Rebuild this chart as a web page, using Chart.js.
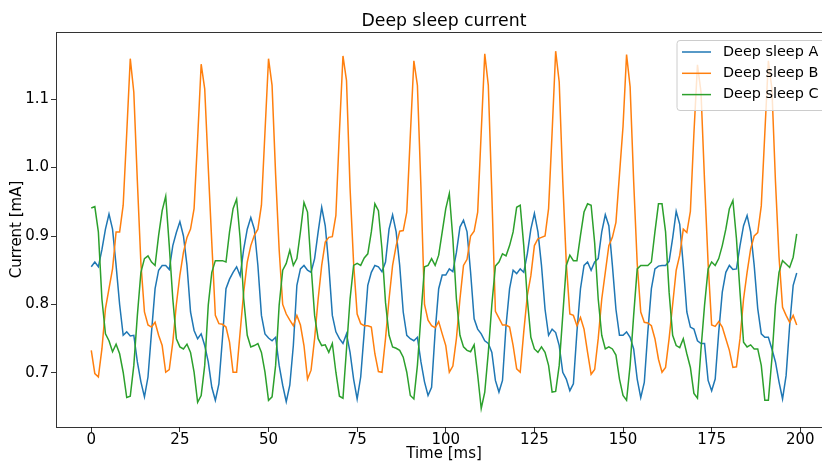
<!DOCTYPE html>
<html>
<head>
<meta charset="utf-8">
<title>Deep sleep current</title>
<script src="https://cdn.jsdelivr.net/npm/chart.js@4.4.1/dist/chart.umd.min.js"></script>
<style>
  html, body { margin: 0; padding: 0; background: #ffffff; overflow: hidden; }
  #wrap { width: 822px; height: 463px; overflow: hidden; }
  canvas { display: block; }
</style>
</head>
<body>
<div id="wrap"><canvas id="grafico" width="888" height="463"></canvas></div>
<script>
// ---------------------------------------------------------------
// datos (una muestra por ms)
// ---------------------------------------------------------------
const chartTitle = 'Deep sleep current';

const timeMs = [
  0, 1, 2, 3, 4, 5, 6, 7, 8, 9, 10, 11, 12, 13, 14, 15, 16, 17, 18, 19,
  20, 21, 22, 23, 24, 25, 26, 27, 28, 29, 30, 31, 32, 33, 34, 35, 36, 37, 38, 39,
  40, 41, 42, 43, 44, 45, 46, 47, 48, 49, 50, 51, 52, 53, 54, 55, 56, 57, 58, 59,
  60, 61, 62, 63, 64, 65, 66, 67, 68, 69, 70, 71, 72, 73, 74, 75, 76, 77, 78, 79,
  80, 81, 82, 83, 84, 85, 86, 87, 88, 89, 90, 91, 92, 93, 94, 95, 96, 97, 98, 99,
  100, 101, 102, 103, 104, 105, 106, 107, 108, 109, 110, 111, 112, 113, 114, 115, 116, 117, 118, 119,
  120, 121, 122, 123, 124, 125, 126, 127, 128, 129, 130, 131, 132, 133, 134, 135, 136, 137, 138, 139,
  140, 141, 142, 143, 144, 145, 146, 147, 148, 149, 150, 151, 152, 153, 154, 155, 156, 157, 158, 159,
  160, 161, 162, 163, 164, 165, 166, 167, 168, 169, 170, 171, 172, 173, 174, 175, 176, 177, 178, 179,
  180, 181, 182, 183, 184, 185, 186, 187, 188, 189, 190, 191, 192, 193, 194, 195, 196, 197, 198, 199
];

const sleepA = [
  0.855, 0.862, 0.855, 0.880, 0.910, 0.932, 0.910, 0.857, 0.800, 0.755, 0.760, 0.754, 0.755, 0.716, 0.687, 0.665, 0.694, 0.760, 0.823, 0.850,
  0.857, 0.857, 0.851, 0.886, 0.905, 0.921, 0.900, 0.857, 0.789, 0.762, 0.750, 0.757, 0.740, 0.716, 0.679, 0.660, 0.684, 0.750, 0.823, 0.837,
  0.847, 0.855, 0.842, 0.881, 0.910, 0.927, 0.910, 0.857, 0.784, 0.757, 0.751, 0.747, 0.752, 0.711, 0.682, 0.658, 0.682, 0.740, 0.828, 0.852,
  0.857, 0.850, 0.847, 0.867, 0.906, 0.942, 0.915, 0.857, 0.784, 0.760, 0.750, 0.743, 0.757, 0.730, 0.691, 0.662, 0.694, 0.760, 0.828, 0.847,
  0.857, 0.855, 0.848, 0.862, 0.910, 0.931, 0.906, 0.857, 0.789, 0.755, 0.750, 0.747, 0.752, 0.716, 0.687, 0.667, 0.679, 0.760, 0.823, 0.843,
  0.843, 0.852, 0.848, 0.876, 0.913, 0.923, 0.906, 0.847, 0.779, 0.764, 0.757, 0.747, 0.743, 0.730, 0.689, 0.672, 0.689, 0.769, 0.823, 0.850,
  0.845, 0.852, 0.847, 0.874, 0.910, 0.933, 0.906, 0.857, 0.793, 0.755, 0.764, 0.759, 0.740, 0.701, 0.691, 0.674, 0.684, 0.760, 0.823, 0.857,
  0.862, 0.850, 0.862, 0.867, 0.906, 0.931, 0.915, 0.857, 0.793, 0.755, 0.755, 0.760, 0.752, 0.735, 0.691, 0.664, 0.686, 0.760, 0.823, 0.852,
  0.856, 0.857, 0.857, 0.863, 0.897, 0.936, 0.917, 0.857, 0.789, 0.767, 0.764, 0.747, 0.743, 0.743, 0.689, 0.674, 0.691, 0.760, 0.818, 0.847,
  0.857, 0.851, 0.852, 0.886, 0.915, 0.930, 0.906, 0.857, 0.794, 0.757, 0.752, 0.752, 0.735, 0.716, 0.687, 0.662, 0.696, 0.769, 0.828, 0.846
];

const sleepB = [
  0.733, 0.699, 0.694, 0.735, 0.794, 0.823, 0.852, 0.906, 0.906, 0.945, 1.050, 1.159, 1.110, 0.980, 0.860, 0.789, 0.770, 0.767, 0.774, 0.755,
  0.740, 0.701, 0.705, 0.745, 0.800, 0.843, 0.876, 0.898, 0.910, 0.940, 1.042, 1.151, 1.115, 1.000, 0.890, 0.784, 0.772, 0.771, 0.767, 0.745,
  0.701, 0.701, 0.760, 0.818, 0.862, 0.886, 0.901, 0.910, 0.945, 1.052, 1.159, 1.120, 0.990, 0.880, 0.800, 0.786, 0.777, 0.769, 0.784, 0.770,
  0.740, 0.691, 0.704, 0.750, 0.808, 0.857, 0.891, 0.898, 0.899, 0.930, 1.052, 1.163, 1.127, 0.970, 0.860, 0.786, 0.772, 0.769, 0.769, 0.767,
  0.728, 0.702, 0.701, 0.750, 0.808, 0.857, 0.886, 0.907, 0.908, 0.935, 1.047, 1.156, 1.120, 0.970, 0.800, 0.777, 0.769, 0.766, 0.775, 0.757,
  0.740, 0.701, 0.710, 0.750, 0.808, 0.857, 0.866, 0.900, 0.907, 0.935, 1.052, 1.166, 1.120, 0.960, 0.790, 0.780, 0.770, 0.770, 0.767, 0.740,
  0.706, 0.701, 0.760, 0.813, 0.842, 0.886, 0.896, 0.898, 0.900, 0.940, 1.052, 1.170, 1.125, 0.980, 0.860, 0.786, 0.784, 0.769, 0.781, 0.764,
  0.730, 0.698, 0.705, 0.750, 0.808, 0.847, 0.886, 0.898, 0.920, 0.990, 1.060, 1.165, 1.118, 0.980, 0.860, 0.789, 0.774, 0.773, 0.769, 0.750,
  0.720, 0.701, 0.708, 0.750, 0.800, 0.850, 0.872, 0.910, 0.905, 0.936, 1.050, 1.150, 1.110, 0.980, 0.860, 0.770, 0.768, 0.775, 0.767, 0.750,
  0.733, 0.708, 0.709, 0.750, 0.808, 0.847, 0.881, 0.900, 0.905, 0.944, 1.050, 1.156, 1.115, 0.980, 0.870, 0.796, 0.784, 0.774, 0.784, 0.770
];

const sleepC = [
  0.941, 0.943, 0.906, 0.808, 0.757, 0.747, 0.731, 0.742, 0.728, 0.701, 0.664, 0.666, 0.711, 0.784, 0.847, 0.867, 0.871, 0.862, 0.857, 0.901,
  0.937, 0.958, 0.886, 0.808, 0.750, 0.738, 0.735, 0.742, 0.730, 0.701, 0.657, 0.667, 0.711, 0.799, 0.847, 0.864, 0.864, 0.864, 0.862, 0.906,
  0.940, 0.954, 0.896, 0.808, 0.755, 0.738, 0.740, 0.743, 0.730, 0.701, 0.660, 0.665, 0.711, 0.799, 0.850, 0.860, 0.879, 0.857, 0.867, 0.906,
  0.949, 0.935, 0.857, 0.784, 0.750, 0.740, 0.741, 0.730, 0.743, 0.701, 0.666, 0.663, 0.735, 0.808, 0.857, 0.860, 0.857, 0.868, 0.874, 0.906,
  0.947, 0.937, 0.881, 0.803, 0.755, 0.738, 0.736, 0.733, 0.723, 0.701, 0.667, 0.662, 0.711, 0.784, 0.855, 0.857, 0.867, 0.857, 0.872, 0.906,
  0.940, 0.962, 0.896, 0.808, 0.755, 0.738, 0.733, 0.731, 0.741, 0.697, 0.648, 0.672, 0.730, 0.800, 0.856, 0.862, 0.874, 0.871, 0.886, 0.906,
  0.942, 0.945, 0.886, 0.808, 0.752, 0.735, 0.730, 0.738, 0.730, 0.711, 0.672, 0.673, 0.711, 0.784, 0.857, 0.872, 0.864, 0.864, 0.901, 0.935,
  0.947, 0.945, 0.890, 0.808, 0.755, 0.735, 0.738, 0.735, 0.726, 0.691, 0.667, 0.660, 0.711, 0.784, 0.852, 0.857, 0.857, 0.857, 0.862, 0.906,
  0.947, 0.947, 0.906, 0.818, 0.755, 0.740, 0.737, 0.750, 0.728, 0.708, 0.670, 0.663, 0.735, 0.799, 0.852, 0.862, 0.857, 0.867, 0.886, 0.910,
  0.940, 0.952, 0.896, 0.818, 0.745, 0.738, 0.741, 0.735, 0.735, 0.711, 0.660, 0.660, 0.721, 0.799, 0.847, 0.864, 0.859, 0.854, 0.869, 0.903
];

const seriesNames = ['Deep sleep A', 'Deep sleep B', 'Deep sleep C'];
const seriesColors = ['#1f77b4', '#ff7f0e', '#2ca02c'];
const xTicks = [0, 25, 50, 75, 100, 125, 150, 175, 200];
const yTicks = [0.7, 0.8, 0.9, 1.0, 1.1];

// ---------------------------------------------------------------
// plugins: titulo centrado sobre los ejes, marco y leyenda
// ---------------------------------------------------------------
const tituloPlugin = {
  id: 'titulo',
  afterDraw(chart) {
    const { ctx, chartArea: a } = chart;
    ctx.save();
    ctx.font = '17.3px "DejaVu Sans"';
    ctx.fillStyle = '#000000';
    ctx.textAlign = 'center';
    ctx.textBaseline = 'middle';
    ctx.fillText(chartTitle, (a.left + a.right) / 2, 22);
    ctx.restore();
  }
};

const marcoPlugin = {
  id: 'marco',
  afterDatasetsDraw(chart) {
    const { ctx, chartArea: a } = chart;
    ctx.save();
    ctx.strokeStyle = 'rgba(0,0,0,0.8)';
    ctx.lineWidth = 1;
    ctx.strokeRect(Math.round(a.left) + 0.5, Math.round(a.top) + 0.5,
                   Math.round(a.right - a.left), Math.round(a.bottom - a.top));
    ctx.restore();
  }
};

const leyendaPlugin = {
  id: 'leyenda',
  afterDraw(chart) {
    const { ctx, chartArea: a } = chart;
    const x0 = a.left + 621, y0 = a.top + 8.5;
    const w = 150, h = 70;
    ctx.save();
    ctx.beginPath();
    ctx.roundRect(x0, y0, w, h, 3);
    ctx.fillStyle = 'rgba(255,255,255,0.8)';
    ctx.fill();
    ctx.strokeStyle = '#cccccc';
    ctx.lineWidth = 1;
    ctx.stroke();
    ctx.font = '14.4px "DejaVu Sans"';
    ctx.textBaseline = 'middle';
    ctx.fillStyle = '#000000';
    chart.data.datasets.forEach((ds, i) => {
      const y = y0 + 11.5 + i * 21.3;
      ctx.beginPath();
      ctx.moveTo(x0 + 5, y);
      ctx.lineTo(x0 + 34, y);
      ctx.strokeStyle = ds.borderColor;
      ctx.lineWidth = 1.5;
      ctx.stroke();
      ctx.fillText(ds.label, x0 + 46, y);
    });
    ctx.restore();
  }
};

// ---------------------------------------------------------------
// grafico
// ---------------------------------------------------------------
Chart.defaults.font.family = '"DejaVu Sans", sans-serif';
Chart.defaults.color = '#000000';

const series = [sleepA, sleepB, sleepC];
const ctxGrafico = document.getElementById('grafico').getContext('2d');

new Chart(ctxGrafico, {
  type: 'line',
  data: {
    datasets: series.map((vals, i) => ({
      label: seriesNames[i],
      data: vals.map((v, k) => ({ x: timeMs[k], y: v })),
      borderColor: seriesColors[i],
      backgroundColor: seriesColors[i],
      borderWidth: 1.5,
      pointRadius: 0,
      tension: 0,
      fill: false,
      order: series.length - i
    }))
  },
  options: {
    responsive: false,
    animation: false,
    events: [],
    layout: { padding: { left: 0, right: 56, top: 32, bottom: 0 } },
    plugins: {
      legend: { display: false },
      tooltip: { enabled: false },
      title: { display: false }
    },
    scales: {
      x: {
        type: 'linear',
        min: -9.95,
        max: 208.95,
        afterBuildTicks: s => { s.ticks = xTicks.map(v => ({ value: v })); },
        afterFit: s => { s.height = 36; },
        grid: { drawOnChartArea: false, drawTicks: true, tickLength: 5, tickColor: '#000000', tickWidth: 0.8 },
        border: { display: false },
        ticks: { padding: 0, maxRotation: 0, font: { size: 15, lineHeight: 1.1 }, color: '#000000' },
        title: {
          display: true,
          text: 'Time [ms]',
          color: '#000000',
          font: { size: 15, lineHeight: 1 },
          padding: { top: 0, bottom: 1.5 }
        }
      },
      y: {
        type: 'linear',
        min: 0.621,
        max: 1.198,
        afterBuildTicks: s => { s.ticks = yTicks.map(v => ({ value: v })); },
        afterFit: s => { s.width = 56; },
        grid: { drawOnChartArea: false, drawTicks: true, tickLength: 5, tickColor: '#000000', tickWidth: 0.8 },
        border: { display: false },
        ticks: {
          padding: 2,
          font: { size: 15 },
          color: '#000000',
          callback: v => v.toFixed(1)
        },
        title: {
          display: true,
          text: 'Current [mA]',
          color: '#000000',
          font: { size: 15, lineHeight: 1.2 },
          padding: { top: 8.5, bottom: 0 }
        }
      }
    }
  },
  plugins: [marcoPlugin, leyendaPlugin, tituloPlugin]
});
</script>
</body>
</html>
